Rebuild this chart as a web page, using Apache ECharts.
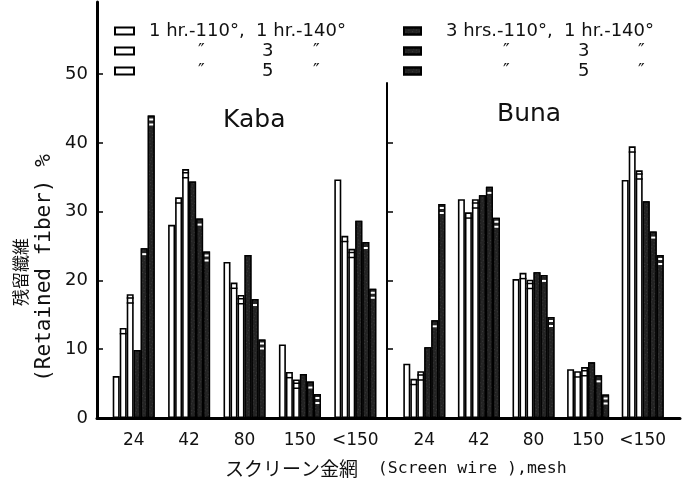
<!DOCTYPE html>
<html>
<head>
<meta charset="utf-8">
<script src="https://cdn.jsdelivr.net/npm/echarts/dist/echarts.min.js"></script>
<style>html,body{margin:0;padding:0;background:#fff}#c{width:683px;height:485px}</style>
</head>
<body>
<div id="c"></div>
<script>
// ---- data ----
const categories = ['24', '42', '80', '150', '<150'];
const seriesNames = [
  '1 hr.-110°, 1 hr.-140°',
  '1 hr.-110°, 3 hr.-140°',
  '1 hr.-110°, 5 hr.-140°',
  '3 hrs.-110°, 1 hr.-140°',
  '3 hrs.-110°, 3 hr.-140°',
  '3 hrs.-110°, 5 hr.-140°'
];
const kaba_1h110_1h140 = [6.1, 28.1, 22.7, 10.7, 34.7];
const kaba_1h110_3h140 = [13.1, 32.1, 19.7, 6.7, 26.5];
const kaba_1h110_5h140 = [18.0, 36.2, 17.9, 5.6, 24.6];
const kaba_3h110_1h140 = [9.9, 34.4, 23.7, 6.4, 28.7];
const kaba_3h110_3h140 = [24.7, 29.0, 17.3, 5.3, 25.6];
const kaba_3h110_5h140 = [44.0, 24.2, 11.4, 3.5, 18.8];

const buna_1h110_1h140 = [7.9, 31.8, 20.2, 7.1, 34.6];
const buna_1h110_3h140 = [5.7, 29.9, 21.1, 6.8, 39.5];
const buna_1h110_5h140 = [6.8, 31.8, 20.1, 7.4, 36.0];
const buna_3h110_1h140 = [10.3, 32.4, 21.2, 8.1, 31.5];
const buna_3h110_3h140 = [14.2, 33.6, 20.8, 6.2, 27.1];
const buna_3h110_5h140 = [31.1, 29.1, 14.7, 3.4, 23.7];

const yTickValuesKaba = [0, 10, 20, 30, 40, 50];
const yTickValuesBuna = [10, 20, 30, 40];

const kabaData = [kaba_1h110_1h140, kaba_1h110_3h140, kaba_1h110_5h140, kaba_3h110_1h140, kaba_3h110_3h140, kaba_3h110_5h140];
const bunaData = [buna_1h110_1h140, buna_1h110_3h140, buna_1h110_5h140, buna_3h110_1h140, buna_3h110_3h140, buna_3h110_5h140];

// ---- styles ----
const FONT = '"DejaVu Sans", "Liberation Sans", sans-serif';
const MONO = '"DejaVu Sans Mono", "Liberation Mono", monospace';
const CJK = '"Noto Sans CJK JP", "Noto Sans CJK SC", sans-serif';
const INK = '#111';

const darkDecal = {
  symbol: 'rect', symbolSize: 0.7, color: 'rgba(255,255,255,0.32)',
  dashArrayX: [[1, 2], [0, 1, 1, 2]], dashArrayY: [1, 2], rotation: 0.4
};
const barStyles = [
  {color: '#fff', borderColor: '#000', borderWidth: 1.6},
  {color: '#fff', borderColor: '#000', borderWidth: 1.6},
  {color: '#fff', borderColor: '#000', borderWidth: 1.6},
  {color: '#232323', borderColor: '#000', borderWidth: 1.2, decal: darkDecal},
  {color: '#232323', borderColor: '#000', borderWidth: 1.2, decal: darkDecal},
  {color: '#232323', borderColor: '#000', borderWidth: 1.2, decal: darkDecal}
];
// stripe marks drawn near the top of each bar
const stripes = [
  null,
  {path: 'path://M0,0H10V1.5H0Z', size: [7, 1.5], off: 5, color: '#000'},
  {path: 'path://M0,0H10V1.5H0Z M0,5H10V6.5H0Z', size: [7, 6.5], off: 3, color: '#000'},
  null,
  {path: 'path://M0,0H10V2H0Z', size: [4, 2], off: 5, color: '#fff'},
  {path: 'path://M0,0H10V2H0Z M0,5H10V7H0Z', size: [4, 7], off: 3, color: '#fff'}
];

function buildSeries(dataSets, gi) {
  const out = [];
  dataSets.forEach((d, i) => {
    out.push({
      type: 'bar', name: seriesNames[i], xAxisIndex: gi, yAxisIndex: gi,
      data: d, barWidth: 7, barGap: '0%', itemStyle: barStyles[i],
      emphasis: {disabled: true}, animation: false
    });
  });
  dataSets.forEach((d, i) => {
    const s = stripes[i];
    out.push({
      type: 'pictorialBar', xAxisIndex: gi, yAxisIndex: gi, data: d,
      barWidth: 7, barGap: '0%',
      symbol: s ? s.path : 'rect', symbolSize: s ? s.size : [1, 1],
      symbolPosition: 'end', symbolOffset: [0, s ? s.off : 0],
      itemStyle: {color: s ? s.color : 'rgba(0,0,0,0)'},
      silent: true, z: 5, animation: false
    });
  });
  return out;
}

const legendText = {};
legendText[seriesNames[0]] = '{g|}1 hr.-110°,  1 hr.-140°';
legendText[seriesNames[1]] = '{g|}{p|}{d|″}{n|3}{e|″}';
legendText[seriesNames[2]] = '{g|}{p|}{d|″}{n|5}{e|″}';
legendText[seriesNames[3]] = '{g|}3 hrs.-110°,  1 hr.-140°';
legendText[seriesNames[4]] = '{g|}{p|}{d|″}{n|3}{e|″}';
legendText[seriesNames[5]] = '{g|}{p|}{d|″}{n|5}{e|″}';

function richFor(g, p, d, n) {
  const base = {fontFamily: FONT, fontSize: 18, color: INK, lineHeight: 20};
  return {
    g: Object.assign({}, base, {width: g}),
    p: Object.assign({}, base, {width: p}),
    d: Object.assign({}, base, {width: d}),
    n: Object.assign({}, base, {width: n}),
    e: Object.assign({}, base)
  };
}

const catLabel = {fontFamily: FONT, fontSize: 17, color: INK, margin: 14, interval: 0};

const option = {
  backgroundColor: '#fff',
  animation: false,
  grid: [
    {left: 106, width: 277, top: 2, height: 416},
    {left: 397, width: 273, top: 83, height: 335},
    {left: 97, right: 3, top: 2, height: 416}
  ],
  xAxis: [
    {type: 'category', gridIndex: 0, data: categories, axisLine: {show: false}, axisTick: {show: false},
     axisLabel: catLabel},
    {type: 'category', gridIndex: 1, data: categories, axisLine: {show: false}, axisTick: {show: false},
     axisLabel: catLabel},
    {type: 'value', gridIndex: 2, min: 0, max: 1, axisLine: {show: true, lineStyle: {color: '#000', width: 3}},
     axisTick: {show: false}, axisLabel: {show: false}, splitLine: {show: false}}
  ],
  yAxis: [
    {type: 'value', gridIndex: 0, min: 0, max: 60.5, interval: 10, offset: 9,
     axisLine: {show: true, lineStyle: {color: '#000', width: 3}},
     axisTick: {show: true, inside: true, length: 6, lineStyle: {color: '#000', width: 1.5}, customValues: yTickValuesKaba},
     axisLabel: {fontFamily: FONT, fontSize: 18, color: INK, margin: 9, customValues: yTickValuesKaba},
     splitLine: {show: false}},
    {type: 'value', gridIndex: 1, min: 0, max: 48.7, interval: 10, offset: 10,
     axisLine: {show: true, lineStyle: {color: '#000', width: 2}},
     axisTick: {show: true, inside: true, length: 6, lineStyle: {color: '#000', width: 1.5}, customValues: yTickValuesBuna},
     axisLabel: {show: false}, splitLine: {show: false}},
    {type: 'value', gridIndex: 2, show: false, min: 0, max: 1}
  ],
  legend: [
    {left: 109, top: 16, orient: 'vertical', itemWidth: 19, itemHeight: 7, itemGap: 0,
     selectedMode: false, icon: 'rect', data: seriesNames.slice(0, 3),
     formatter: name => legendText[name],
     textStyle: {fontFamily: FONT, fontSize: 18, color: INK, lineHeight: 20, rich: richFor(10, 49, 64, 51)}},
    {left: 398, top: 16, orient: 'vertical', itemWidth: 17, itemHeight: 7, itemGap: 0,
     selectedMode: false, icon: 'rect', data: seriesNames.slice(3, 6),
     formatter: name => legendText[name],
     textStyle: {fontFamily: FONT, fontSize: 18, color: INK, lineHeight: 20, rich: richFor(20, 57, 75, 60)}}
  ],
  title: [
    {text: 'Kaba', left: 218, top: 103, textStyle: {fontFamily: FONT, fontSize: 25, fontWeight: 'normal', color: INK}},
    {text: 'Buna', left: 492, top: 97, textStyle: {fontFamily: FONT, fontSize: 25, fontWeight: 'normal', color: INK}},
    {text: '{j|スクリーン金網}{l|  (Screen wire ),mesh}', left: 220, top: 454,
     textStyle: {fontWeight: 'normal', rich: {
       j: {fontFamily: CJK, fontSize: 19, fontWeight: 'normal', color: INK},
       l: {fontFamily: MONO, fontSize: 16.5, fontWeight: 'normal', color: INK}
     }}}
  ],
  graphic: [
    {type: 'text', x: 21, y: 272, rotation: Math.PI / 2,
     style: {text: '残留纖維', font: '17px "Noto Sans CJK JP"', fill: INK, textAlign: 'center', textVerticalAlign: 'middle'}},
    {type: 'text', x: 45, y: 268, rotation: Math.PI / 2,
     style: {text: '(Retained fiber) %', font: '21px "DejaVu Sans Mono"', fill: INK, textAlign: 'center', textVerticalAlign: 'middle'}}
  ],
  series: buildSeries(kabaData, 0).concat(buildSeries(bunaData, 1))
};

const chart = echarts.init(document.getElementById('c'), null, {renderer: 'canvas'});
chart.setOption(option);
</script>
</body>
</html>
